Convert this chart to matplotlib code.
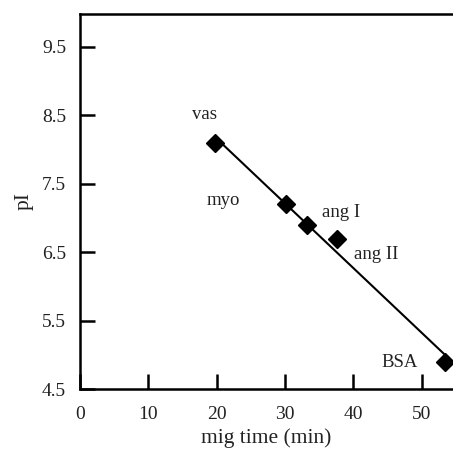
import numpy as np
import matplotlib
matplotlib.use("Agg")
import matplotlib.pyplot as plt

plt.rcParams['font.family'] = ['Liberation Serif', 'DejaVu Serif']

names = ["vas", "myo", "ang I", "ang II", "BSA"]
mig_time = [19.7, 30.2, 33.2, 37.6, 53.4]
pI = [8.1, 7.2, 6.9, 6.7, 4.9]
label_pos = [(18.2, 8.52), (21.0, 7.25), (38.2, 7.08), (43.3, 6.46), (46.8, 4.89)]
xticks = [0, 10, 20, 30, 40, 50]
yticks = [4.5, 5.5, 6.5, 7.5, 8.5, 9.5]

fig = plt.figure(figsize=(4.53, 4.5), dpi=100)
ax = fig.add_axes([80/453, 1 - 389/450, (453 - 80)/453, (389 - 14)/450])

slope, intercept = np.polyfit(mig_time, pI, 1)
xs = np.array([min(mig_time), max(mig_time)])
ax.plot(xs, slope * xs + intercept, color='black', lw=1.5, zorder=2)
ax.plot(mig_time, pI, linestyle='none', marker='D', markersize=9.5,
        color='black', zorder=3, clip_on=False)

for n, (tx, ty) in zip(names, label_pos):
    ax.text(tx, ty, n, ha='center', va='center', fontsize=13.5, color='#222222')

ax.set_xlim(0, (453 - 80) / 6.83)
ax.set_ylim(4.5, 4.5 + (389 - 14) / 68.4)
ax.set_xticks(xticks)
ax.set_yticks(yticks)
ax.set_xticklabels([str(t) for t in xticks])
ax.set_yticklabels([f"{t:.1f}" for t in yticks])
ax.tick_params(direction='in', length=11, width=1.8, labelsize=14,
               labelcolor='#222222')
ax.tick_params(axis='x', pad=12)
ax.tick_params(axis='y', pad=10)
for s in ['left', 'bottom', 'top']:
    ax.spines[s].set_linewidth(1.8)
ax.spines['right'].set_visible(False)

ax.set_xlabel("mig time (min)", fontsize=15.5, labelpad=4, color='#222222')
ax.set_ylabel("pI", fontsize=15.5, labelpad=6, color='#222222')

fig.savefig("out.png", dpi=100)
